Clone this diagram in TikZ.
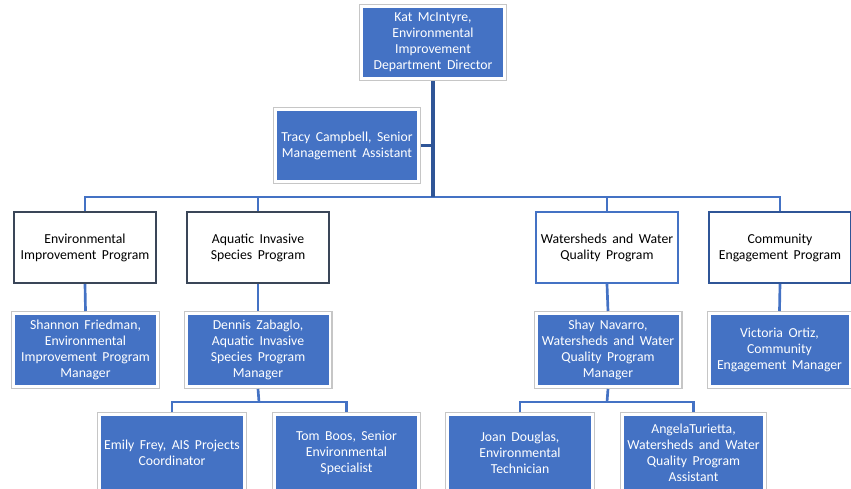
\documentclass[tikz,border=0pt]{standalone}
\usepackage{fontspec}
\setmainfont{Carlito}
\usetikzlibrary{fit,calc}
\definecolor{bfill}{HTML}{4472C4}
\definecolor{trunkc}{HTML}{2F5597}
\definecolor{slate}{HTML}{3A4658}
\definecolor{framec}{HTML}{C6C6C6}
\newcommand{\wsp}{\spaceskip=0.4em plus 0.1em\relax}
\begin{document}
\begin{tikzpicture}[x=0.75pt,y=-0.75pt,
  txt/.style={font=\fontsize{10.3}{12}\selectfont, align=center, inner sep=0pt, execute at begin node=\wsp},
  bluebox/.style={txt, fill=bfill, text=white, minimum width=#1*0.75pt},
  frame/.style={draw=framec, line width=0.8pt, inner sep=2.4pt},
  prog/.style={txt, fill=white, text=black, line width=1.8pt, minimum width=106.5pt, minimum height=53.25pt},
  conn/.style={draw=bfill, line width=2pt},
  trunk/.style={draw=trunkc, line width=2.4pt}
]
\useasboundingbox (0,0) rectangle (851,489);
% top
\node[bluebox=140, minimum height=51.75pt] (kat) at (433,42.5) {Kat McIntyre,\\Environmental\\Improvement\\Department Director};
\node[frame, fit=(kat)] (katf) {};
\node[bluebox=140, minimum height=51.75pt] (tracy) at (347,145.5) {Tracy Campbell, Senior\\Management Assistant};
\node[frame, fit=(tracy)] (tracyf) {};
% programs
\node[prog, draw=slate] (eip) at (85,247.5) {Environmental\\Improvement Program};
\node[prog, draw=slate] (ais) at (258,247.5) {Aquatic Invasive\\Species Program};
\node[prog, draw=bfill] (wwq) at (607,247.5) {Watersheds and Water\\Quality Program};
\node[prog, draw=trunkc] (cep) at (780,247.5) {Community\\Engagement Program};
% managers
\node[bluebox=141, minimum height=52.5pt] (eipm) at (85.5,350) {Shannon Friedman,\\Environmental\\Improvement Program\\Manager};
\node[frame, fit=(eipm)] (eipmf) {};
\node[bluebox=141, minimum height=52.5pt] (aism) at (258,350) {Dennis Zabaglo,\\Aquatic Invasive\\Species Program\\Manager};
\node[frame, fit=(aism)] (aismf) {};
\node[bluebox=141, minimum height=52.5pt] (wwqm) at (608,350) {Shay Navarro,\\Watersheds and Water\\Quality Program\\Manager};
\node[frame, fit=(wwqm)] (wwqmf) {};
\node[bluebox=138, minimum height=52.5pt] (cepm) at (779.5,350) {Victoria Ortiz,\\Community\\Engagement Manager};
\node[frame, fit=(cepm)] (cepmf) {};
% bottom
\node[bluebox=142, minimum height=54.75pt] (emily) at (172,452.5) {Emily Frey, AIS Projects\\Coordinator};
\node[frame, fit=(emily)] (emilyf) {};
\node[bluebox=141, minimum height=54.75pt] (tom) at (346.5,452.5) {Tom Boos, Senior\\Environmental\\Specialist};
\node[frame, fit=(tom)] (tomf) {};
\node[bluebox=142, minimum height=54.75pt] (joan) at (520,452.5) {Joan Douglas,\\Environmental\\Technician};
\node[frame, fit=(joan)] (joanf) {};
\node[bluebox=139, minimum height=54.75pt] (angela) at (693.5,452.5) {AngelaTurietta,\\Watersheds and Water\\Quality Program\\Assistant};
\node[frame, fit=(angela)] (angelaf) {};
% connectors
\coordinate (bar) at (433,197);
\coordinate (aisbar) at (259,402);
\coordinate (wwqbar) at (607,402);
\draw[conn] (eip.north) -- (eip.north |- bar) -- (cep.north |- bar) -- (cep.north);
\draw[conn] (ais.north) -- (ais.north |- bar);
\draw[conn] (wwq.north) -- (wwq.north |- bar);
\draw[trunk] (katf.south) -- (bar);
\draw[trunk] (tracyf.east) -- (tracyf.east -| katf.south);
\draw[conn] (eip.south) -- (eipmf.north);
\draw[conn] (ais.south) -- (aismf.north);
\draw[conn] (wwq.south) -- (wwqmf.north);
\draw[conn] (cep.south) -- (cepmf.north);
\draw[conn] (aismf.south) -- (aisbar);
\draw[conn] (emilyf.north) -- (emilyf.north |- aisbar) -- (tomf.north |- aisbar) -- (tomf.north);
\draw[conn] (wwqmf.south) -- (wwqbar);
\draw[conn] (joanf.north) -- (joanf.north |- wwqbar) -- (angelaf.north |- wwqbar) -- (angelaf.north);
\end{tikzpicture}
\end{document}
